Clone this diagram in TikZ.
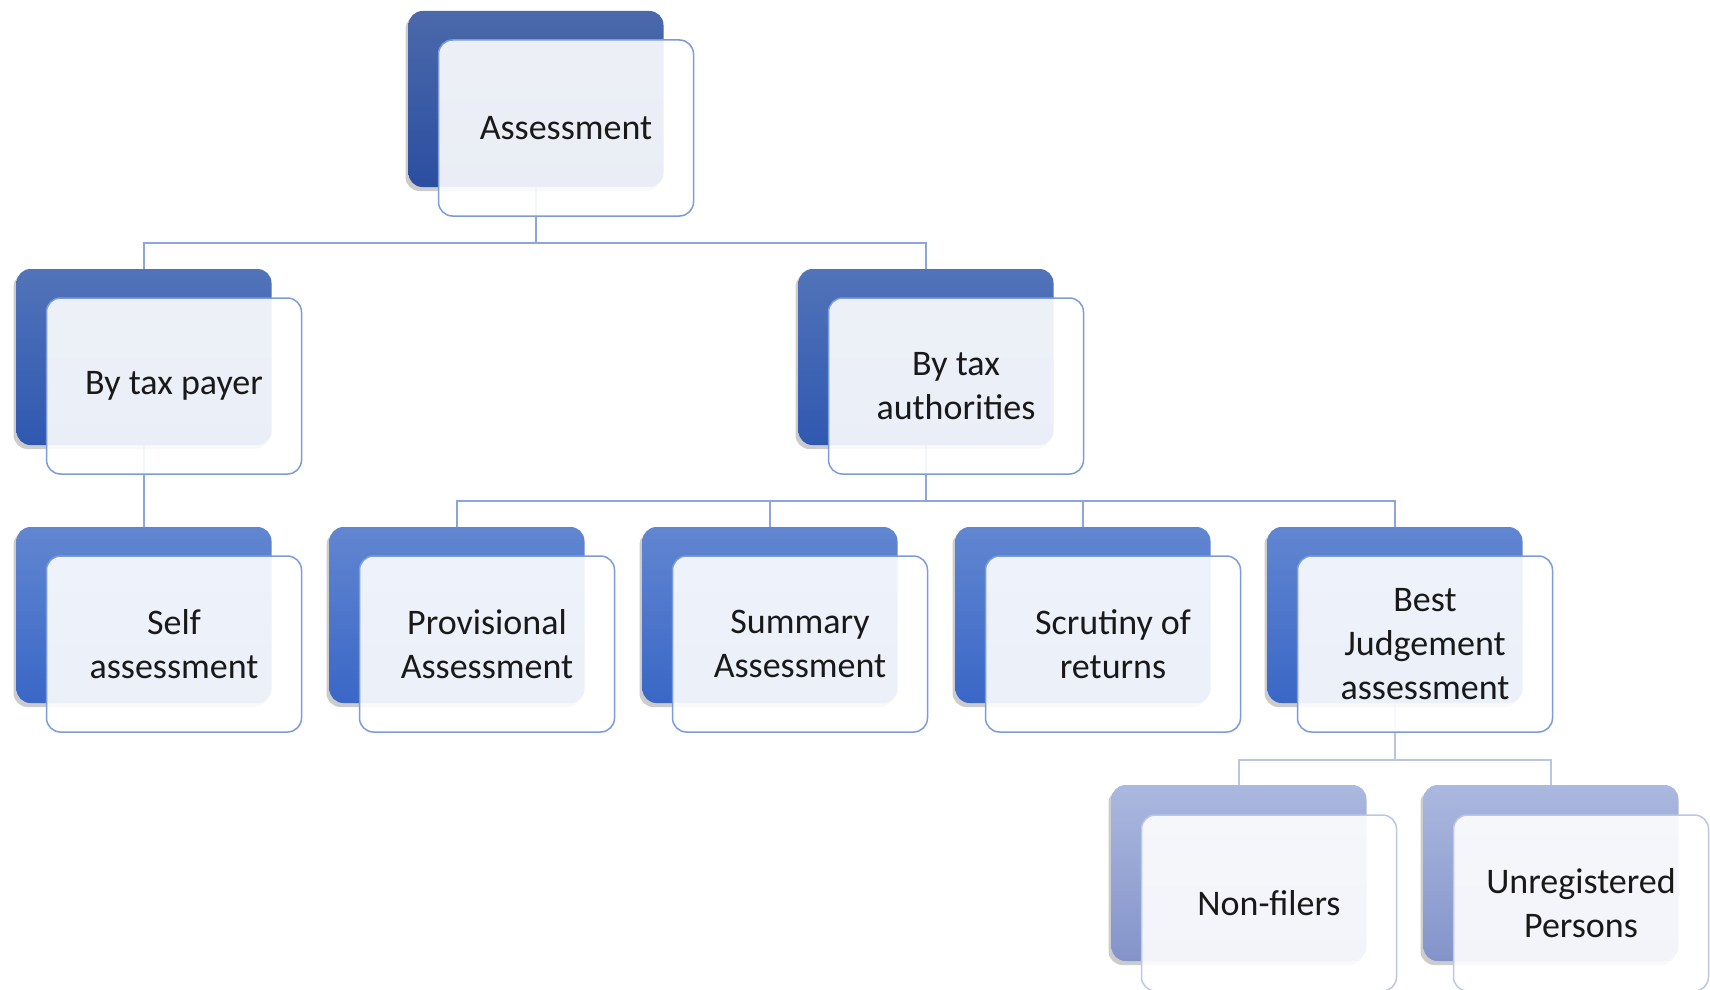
\documentclass[tikz,border=0pt]{standalone}
\usepackage{fontspec}
\setmainfont{Carlito}
\usetikzlibrary{shadows,backgrounds}

\definecolor{topA}{HTML}{4B69AB}
\definecolor{botA}{HTML}{2B4E9F}
\definecolor{topB}{HTML}{5173B9}
\definecolor{botB}{HTML}{2F58B0}
\definecolor{topC}{HTML}{6186D1}
\definecolor{botC}{HTML}{3A67C6}
\definecolor{topD}{HTML}{ABB8DF}
\definecolor{botD}{HTML}{8494CA}
\definecolor{edgeblue}{HTML}{7C9BD9}
\definecolor{edgepale}{HTML}{BCC7E6}
\definecolor{linkblue}{HTML}{8CA5DA}
\definecolor{linkpale}{HTML}{B9C5E5}

\tikzset{
    backbox/.style={rounded corners=14pt, minimum width=255pt, minimum height=176pt,
        inner sep=0pt, drop shadow={shadow xshift=-3pt, shadow yshift=-4pt, opacity=0.4}},
    lvlA/.style={backbox, top color=topA, bottom color=botA},
    lvlB/.style={backbox, top color=topB, bottom color=botB},
    lvlC/.style={backbox, top color=topC, bottom color=botC},
    lvlD/.style={backbox, top color=topD, bottom color=botD},
    frontbox/.style={rounded corners=14pt, minimum width=255pt, minimum height=176pt,
        inner sep=0pt, draw=edgeblue, line width=1.5pt, fill=white, fill opacity=0.9,
        text opacity=1, align=center, text=black!90,
        font=\fontsize{36}{44}\selectfont},
    link/.style={draw=linkblue, line width=1.5pt},
}

\begin{document}
\begin{tikzpicture}[x=1pt, y=-1pt]
        % --- 描画範囲 ---
        \useasboundingbox (0,0) rectangle (1710,990);
        \clip (0,0) rectangle (1710,990);

        % --- 枝の高さ ---
        \coordinate (bar1) at (0,243);
        \coordinate (bar2) at (0,501);
        \coordinate (bar3) at (0,760);

        % --- 第1段 ---
        \node[lvlA] (assess-back) at (536,99) {};
        \node[frontbox] (assess) at (566,128) {Assessment};

        % --- 第2段 ---
        \node[lvlB] (payer-back) at (144,357) {};
        \node[frontbox] (payer) at (174,386) {By tax payer};
        \node[lvlB] (authority-back) at (926,357) {};
        \node[frontbox] (authority) at (956,386) {By tax\\authorities};

        % --- 第3段 ---
        % \foreach <名前>/<x>/<ラベル>
        \foreach \name/\x/\label in {self/144/{Self\\assessment},
                prov/457/{Provisional\\Assessment},
                summ/770/{Summary\\Assessment},
                scru/1083/{Scrutiny of\\returns},
                best/1395/{Best\\Judgement\\assessment}} {
            \node[lvlC] (\name-back) at (\x,615) {};
            \node[frontbox] (\name) at (\x+30,644) {\label};
        }

        % --- 第4段 ---
        \node[lvlD] (nonfiler-back) at (1239,873) {};
        \node[frontbox, draw=edgepale] (nonfiler) at (1269,903) {Non-filers};
        \node[lvlD] (unreg-back) at (1551,873) {};
        \node[frontbox, draw=edgepale] (unreg) at (1581,903) {Unregistered\\Persons};

        % --- 接続線 (箱の後ろに描く) ---
        \begin{scope}[on background layer]
            \foreach \child in {payer, authority}
                \draw[link] (assess-back.south) -- (assess-back.south |- bar1) -| (\child-back.north);
            \draw[link] (payer-back.south) -- (self-back.north);
            \foreach \child in {prov, summ, scru, best}
                \draw[link] (authority-back.south) -- (authority-back.south |- bar2) -| (\child-back.north);
            \foreach \child in {nonfiler, unreg}
                \draw[link, draw=linkpale] (best-back.south) -- (best-back.south |- bar3) -| (\child-back.north);
        \end{scope}

    \end{tikzpicture}
\end{document}
